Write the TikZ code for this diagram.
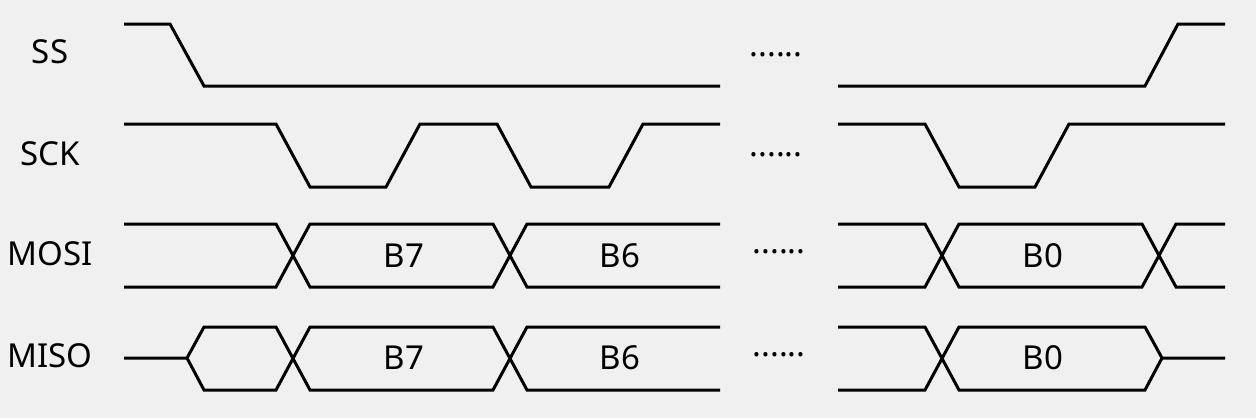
\documentclass[tikz,border=0pt]{standalone}
\usepackage{fontspec}
\setmainfont{Noto Sans}
\definecolor{PageGrey}{RGB}{240,240,240}

\begin{document}
\begin{tikzpicture}[x=1pt, y=-1pt, every node/.style={font=\fontsize{33}{36}\selectfont, inner sep=0pt},
  wave/.style={line width=3pt, line join=miter}]
\fill[PageGrey] (0,0) rectangle (1256,418);
\useasboundingbox (0,0) rectangle (1256,418);

\node (ss) at (50,52) {SS};
\node (sck) at (50,154) {SCK};
\node (mosi) at (50,254) {MOSI};
\node (miso) at (50,356) {MISO};

% SS
\draw[wave] (124,24) -- (170,24) -- (204,86) -- (720,86);
\draw[wave] (838,86) -- (1145,86) -- (1178,24) -- (1225,24);
% SCK
\draw[wave] (124,124) -- (276,124) -- (310,187) -- (386,187) -- (420,124) -- (497,124) -- (531,187) -- (609,187) -- (643,124) -- (720,124);
\draw[wave] (838,124) -- (925,124) -- (959,187) -- (1035,187) -- (1069,124) -- (1225,124);
% MOSI
\draw[wave] (124,224) -- (276,224) -- (310,287) -- (493,287) -- (527,224) -- (720,224);
\draw[wave] (124,287) -- (276,287) -- (310,224) -- (493,224) -- (527,287) -- (720,287);
\draw[wave] (838,224) -- (925,224) -- (959,287) -- (1142,287) -- (1176,224) -- (1225,224);
\draw[wave] (838,287) -- (925,287) -- (959,224) -- (1142,224) -- (1176,287) -- (1225,287);
% MISO
\draw[wave] (124,358) -- (187,358) -- (204,327) -- (276,327) -- (310,390) -- (493,390) -- (527,327) -- (720,327);
\draw[wave] (187,358) -- (204,390) -- (276,390) -- (310,327) -- (493,327) -- (527,390) -- (720,390);
\draw[wave] (838,327) -- (925,327) -- (959,390) -- (1145,390) -- (1162,358) -- (1225,358);
\draw[wave] (838,390) -- (925,390) -- (959,327) -- (1145,327) -- (1162,358);

\node (mosi7) at (404,256) {B7};
\node (mosi6) at (620,256) {B6};
\node (mosi0) at (1043,256) {B0};
\node (miso7) at (404,358) {B7};
\node (miso6) at (620,358) {B6};
\node (miso0) at (1043,358) {B0};

\node (dotss) at (776,55) {......};
\node (dotsck) at (776,155) {......};
\node (dotmosi) at (779,252) {......};
\node (dotmiso) at (779,355) {......};
\end{tikzpicture}
\end{document}
